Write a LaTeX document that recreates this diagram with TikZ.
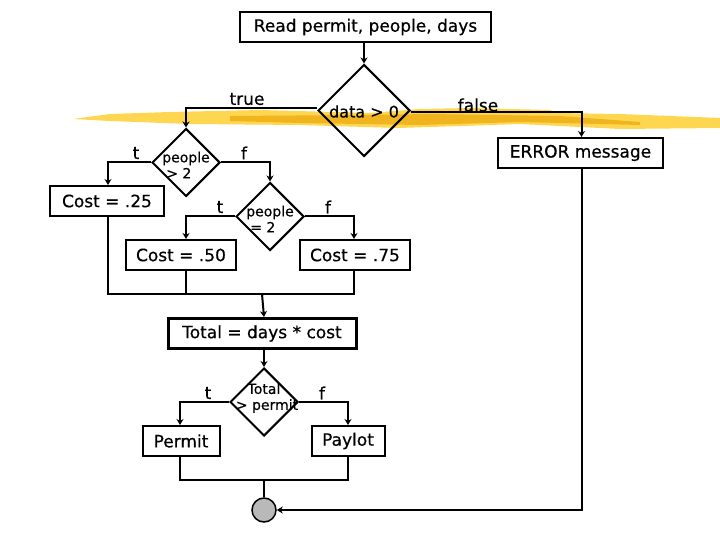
\documentclass[tikz,border=0pt]{standalone}
\usepackage{fontspec}
\setmainfont{DejaVu Sans}[RawFeature={embolden=0.5}]
\usetikzlibrary{arrows.meta,shapes.geometric}
\definecolor{brushlight}{RGB}{255,214,80}
\definecolor{brushdark}{RGB}{240,180,30}
\tikzset{
	% boxes, tests and their small labels
	step node/.style={rectangle,draw,line width=2pt,fill=white,minimum height=30pt,inner sep=0,font=\fontsize{17}{20}\selectfont},
	test node/.style={diamond,draw,line width=2pt,inner sep=0,minimum width=68pt,minimum height=68pt},
	test text/.style={inner sep=0,align=center,font=\fontsize{14}{16}\selectfont},
	branch text/.style={inner sep=0,font=\fontsize{17}{20}\selectfont},
	flow/.style={line width=2pt,-{Stealth[length=6pt,width=7pt]}},
	line/.style={line width=2pt}
}
\begin{document}
\begin{tikzpicture}[x=1pt,y=-1pt]
  \useasboundingbox (0,0) rectangle (720,540);

  %% brush stroke behind the upper test
  \fill[brushlight] (73,119) -- (110,114) -- (170,112) -- (260,110) -- (370,113) -- (420,109) -- (470,108) -- (550,110) -- (556,113)
    -- (620,114) -- (720,118) -- (720,128) -- (620,129) -- (520,124) -- (430,127) -- (398,128) -- (300,125) -- (190,124) -- (110,121) -- cycle;
  \fill[brushdark] (230,116) -- (360,115) -- (430,114) -- (560,116) -- (640,122) -- (640,125) -- (520,122) -- (420,125) -- (300,123) -- (230,121) -- cycle;

  %% the nodes
  \node(read) at (365.5,27) [step node,minimum width=251pt]{Read permit, people, days};
  \node(data) at (364,110.5) [test node,minimum width=92pt,minimum height=92pt]{};
  \node(datatext) at (364,111.5) [test text,font=\fontsize{16}{18}\selectfont]{data > 0};
  \node(error) at (580.5,153) [step node,minimum width=165pt]{ERROR message};

  \node(morethan) at (186,162.5) [test node]{};
  \node(morethantext) at (186,165) [test text,align=left]{people\\\hspace*{4pt}> 2};
  \node(cheap) at (107,201) [step node,minimum width=114pt]{Cost = .25};

  \node(equal) at (270,216.5) [test node]{};
  \node(equaltext) at (270,219) [test text,align=left]{people\\\hspace*{4pt}= 2};
  \node(middle) at (181,255) [step node,minimum width=110pt]{Cost = .50};
  \node(dear) at (355,255) [step node,minimum width=110pt]{Cost = .75};

  \node(total) at (262,333.5) [step node,line width=3pt,minimum width=188pt]{Total = days * cost};
  \node(check) at (264,402) [test node]{};
  \node(checktext) at (267,398) [test text]{\hspace*{-6pt}Total\\> permit};
  \node(permit) at (181,441) [step node,minimum width=77pt]{Permit};
  \node(paylot) at (348,441) [step node,minimum width=73pt]{Paylot};
  \node(stop) at (264,510) [circle,draw,line width=1.5pt,fill=gray!55,minimum size=24pt,inner sep=0]{};

  %% merge points
  \coordinate(join) at (264,294);
  \coordinate(end) at (264,480);

  %% connectors
  \draw[flow] (read.south -| data.north) -- (data.north);
  \draw[flow] ([yshift=2pt]data.west) -| (morethan.north);
  \draw[flow] ([yshift=-2pt]data.east) -| ([xshift=1pt]error.north);
  \draw[flow] (morethan.west) -| ([xshift=1pt]cheap.north);
  \draw[flow] (morethan.east) -| (equal.north);
  \draw[flow] (equal.west) -| ([xshift=5pt]middle.north);
  \draw[flow] (equal.east) -| ([xshift=-1pt]dear.north);
  \draw[line] ([xshift=1pt]cheap.south) |- ([xshift=-1pt]dear.south |- join) -- ([xshift=-1pt]dear.south);
  \draw[line] ([xshift=5pt]middle.south) -- ([xshift=5pt]middle.south |- join);
  \draw[flow] (join) -- (join -| total.north) -- ([xshift=2pt]total.north);
  \draw[flow] ([xshift=2pt]total.south) -- (check.north);
  \draw[flow] (check.west) -| ([xshift=-1pt]permit.north);
  \draw[flow] (check.east) -| (paylot.north);
  \draw[line] ([xshift=-1pt]permit.south) |- (end) -| (paylot.south);
  \draw[line] (end) -- (stop.north);
  \draw[flow] ([xshift=1pt]error.south) |- (stop.east);

  %% branch labels
  \node(true) at (247,99) [branch text]{true};
  \node(false) at (478,105) [branch text]{false};
  \node(t1) at (136,153) [branch text]{t};
  \node(f1) at (244,153) [branch text]{f};
  \node(t2) at (220,207) [branch text]{t};
  \node(f2) at (328,207) [branch text]{f};
  \node(t3) at (208,393) [branch text]{t};
  \node(f3) at (322,393) [branch text]{f};

\end{tikzpicture}
\end{document}
